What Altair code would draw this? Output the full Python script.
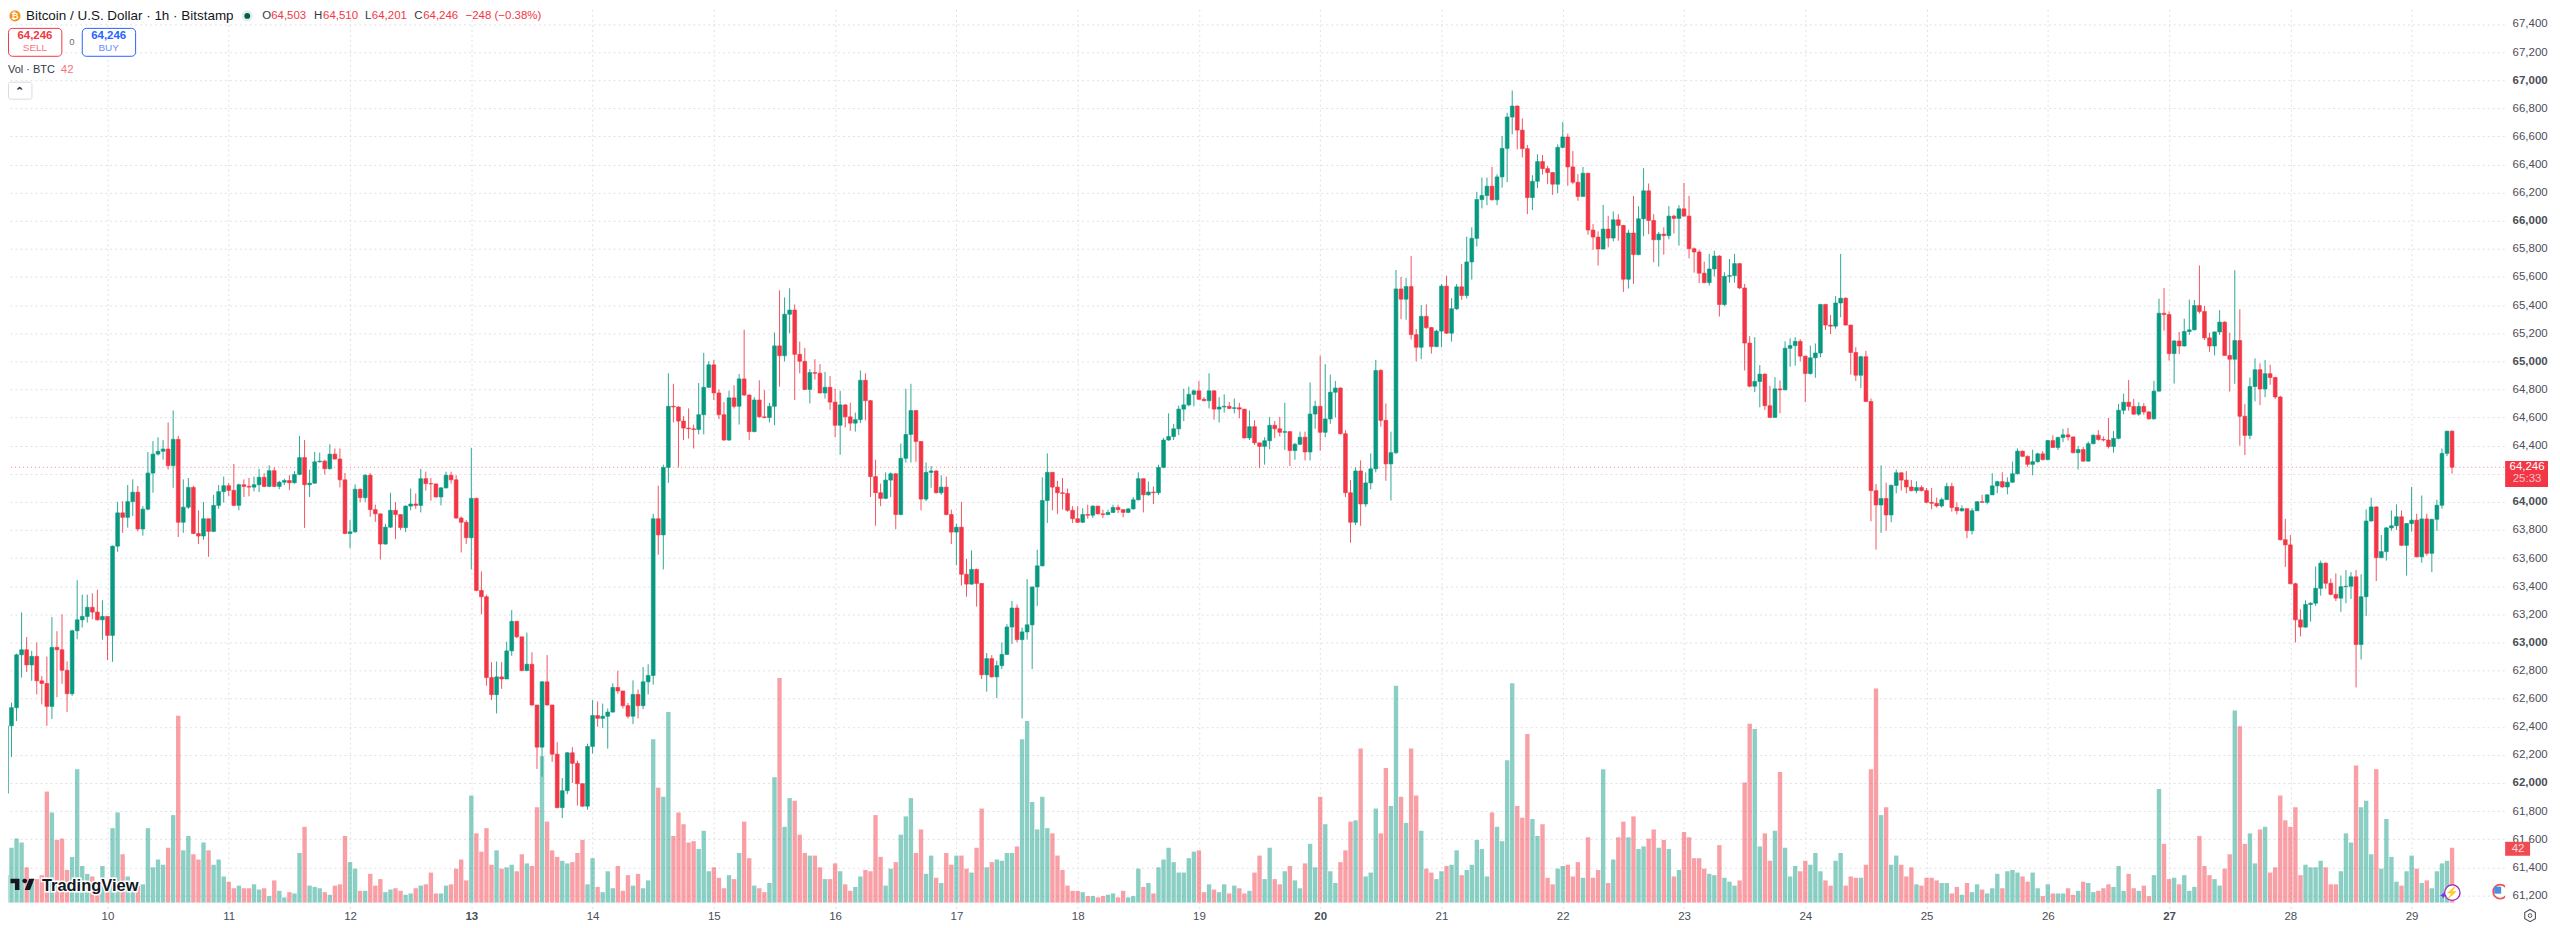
import altair as alt
import pandas as pd

FONT = "Liberation Sans"
GREEN = "#089981"
RED = "#F23645"
INK = "#131722"

first_open = 61721
closes = [
61927,62407,62536,62912,62948,62840,62901,62727,62708,62545,62965,62948,62802,62635,63083,63161,63185,63250,63216,63161,
63185,63050,63685,63922,63890,64002,64069,63807,63948,64205,64340,64360,64376,64258,64445,63855,63962,64103,63775,63757,
63880,63790,63975,64073,64115,64082,63975,64122,64110,64105,64122,64175,64110,64222,64110,64140,64152,64136,64195,64315,
64122,64133,64285,64290,64236,64340,64305,64157,63775,63787,64090,64030,64190,63945,63915,63700,63820,63940,63910,63817,
63970,63985,63975,64165,64130,64128,64035,64100,64190,64157,63885,63855,63745,64025,63370,63325,62750,62628,62755,62740,
62940,63150,63040,62800,62845,62555,62255,62720,62555,62205,61825,61945,62215,62140,61995,61835,62260,62480,62460,62475,
62505,62680,62655,62550,62475,62630,62550,62720,62765,63880,63765,64245,64680,64675,64575,64525,64520,64515,64620,64815,
64975,64775,64620,64440,64740,64680,64875,64760,64500,64725,64605,64600,64680,65110,65040,65335,65365,65050,65000,64800,
64920,64915,64775,64815,64710,64545,64690,64605,64560,64585,64865,64720,64180,64065,64025,64155,64200,63910,64310,64480,
64650,64430,64020,64210,64220,64065,64105,63910,63785,63820,63485,63415,63520,63420,62770,62885,62755,62835,62915,63110,
63245,63020,63075,63125,63395,63545,64010,64210,64105,64065,64060,63940,63880,63855,63910,63905,63970,63915,63910,63925,
63960,63945,63925,63950,64015,64165,64050,64070,64065,64245,64440,64465,64520,64660,64690,64765,64790,64730,64720,64790,
64660,64675,64680,64665,64670,64660,64455,64535,64420,64395,64435,64545,64520,64495,64500,64365,64410,64460,64355,64625,
64680,64495,64590,64780,64810,64485,64065,63855,64220,63985,64135,64235,64935,64580,64270,64350,65515,65442,65532,65190,
65100,65320,65240,65105,65215,65535,65200,65374,65530,65468,65707,65875,66151,66180,66246,66149,66312,66515,66738,66816,
66645,66513,66165,66281,66421,66371,66343,66260,66522,66596,66383,66274,66173,66338,65934,65884,65799,65941,65877,66007,
65967,65584,65913,65759,66014,66213,66002,65865,65905,65894,66033,66017,66085,66033,65801,65778,65627,65560,65657,65749,
65404,65605,65610,65695,65522,65130,64823,64857,64909,64684,64601,64804,64797,65093,65112,65142,65037,64913,65025,65059,
65404,65258,65250,65415,65449,65258,65063,64901,65033,64714,64080,63978,64024,63907,64117,64207,64155,64106,64080,64102,
64080,63997,63990,63971,64016,64110,63960,63937,63952,63795,63937,64001,63997,64050,64114,64144,64106,64140,64200,64361,
64324,64267,64286,64342,64301,64436,64387,64458,64477,64462,64350,64372,64290,64414,64474,64444,64440,64394,64452,64652,
64709,64679,64624,64679,64640,64591,64788,65342,65333,65055,65145,65109,65212,65224,65397,65355,65167,65109,65209,65279,
65042,65015,65148,64609,64473,64821,64940,64803,64912,64885,64746,63731,63694,63418,63161,63109,63270,63279,63385,63564,
63421,63342,63315,63397,63400,63467,62985,63325,63864,63964,63603,63646,63815,63830,63894,63691,63846,63870,63609,63879,
63634,63876,63976,64345,64503,64246]
highs = [
62005,62415,62572,62920,63213,63038,62940,63000,62760,62900,63180,63080,63200,62865,63090,63443,63340,63340,63350,63375,
63300,63185,63690,64000,64005,64120,64160,64113,63970,64355,64432,64460,64440,64565,64650,64470,64160,64170,64115,63940,
64000,63880,64050,64120,64180,64135,64270,64130,64160,64170,64180,64235,64205,64260,64245,64150,64165,64190,64218,64470,
64440,64230,64355,64350,64300,64410,64380,64380,64205,63870,64125,64095,64195,64205,63980,63915,63845,64065,63998,63910,
63975,64095,64060,64235,64215,64170,64128,64105,64215,64215,64190,63897,63870,64385,64030,63505,63340,62860,62865,62860,
63005,63230,63150,63040,63070,62930,62555,62725,62910,62555,62290,62035,62220,62255,62160,62000,62280,62590,62580,62565,
62530,62710,62800,62655,62570,62730,62665,62825,62845,63915,64115,64265,64915,64840,64680,64610,64665,64550,64845,65060,
65000,65010,64800,64710,64790,64830,64910,65225,64765,64745,64865,64795,64705,65205,65505,65455,65520,65405,65140,65095,
64945,65015,64980,64925,64895,64805,64790,64695,64705,64635,64935,64915,64725,64300,64130,64210,64210,64205,64415,64805,
64840,64650,64430,64280,64255,64225,64190,64180,63945,63845,64000,63595,63655,63525,63420,62925,62910,62870,63000,63130,
63295,63270,63105,63450,63395,63660,64175,64345,64210,64150,64170,64095,63970,63970,63955,63980,63975,63970,63945,63945,
63980,63980,63945,63955,64035,64210,64165,64145,64110,64265,64455,64630,64555,64685,64805,64820,64800,64860,64745,64915,
64795,64745,64765,64710,64735,64705,64660,64650,64580,64420,64460,64605,64575,64605,64705,64500,64420,64500,64500,64850,
64720,65040,64980,64905,64860,64815,64510,64155,64245,64295,64210,64345,65010,64945,64700,64500,65650,65600,65593,65750,
65230,65400,65405,65245,65225,65550,65610,65450,65550,65693,65887,65953,66206,66307,66307,66383,66331,66603,66768,66927,
66820,66728,66540,66324,66473,66468,66390,66345,66544,66702,66620,66496,66331,66383,66340,65976,65924,66113,66035,66066,
66047,65970,65936,66177,66104,66374,66265,66047,65920,65953,66104,66043,66111,66269,66177,65810,65794,65709,65764,65787,
65755,65634,65728,65764,65700,65551,65179,65172,64973,64915,64826,64887,64864,65142,65164,65172,65157,65040,65112,65127,
65410,65410,65329,65464,65764,65455,65260,65100,65040,65074,64736,64128,64260,64136,64125,64230,64210,64219,64155,64147,
64117,64099,64099,64031,64031,64136,64136,63997,63975,63950,63956,64005,64050,64055,64204,64150,64211,64174,64286,64380,
64365,64330,64372,64350,64361,64440,64473,64465,64519,64526,64465,64399,64391,64429,64480,64511,64466,64597,64503,64697,
64770,64867,64733,64709,64703,64645,64861,65445,65521,65355,65150,65209,65303,65439,65436,65682,65394,65203,65212,65364,
65285,65203,65648,65370,64697,64885,65021,64985,65009,64976,64890,64755,63879,63764,63425,63236,63300,63285,63540,63582,
63570,63455,63491,63476,63515,63500,63515,63485,63946,64030,63970,63764,63820,63939,63982,63939,63850,64106,63915,64045,
63915,63880,64015,64380,64506,64510]
lows = [
61674,61910,62186,62440,62750,62790,62727,62630,62560,62407,62456,62610,62706,62505,62620,63023,63106,63142,63165,63155,
63020,62875,62862,63645,63780,63817,63900,63790,63760,63940,64065,64330,64300,64230,64100,63750,63780,63950,63770,63700,
63730,63610,63785,63950,63995,64040,63970,63940,64035,64040,64075,64070,64105,64105,64105,64090,64120,64085,64130,64190,
63815,64035,64130,64280,64195,64230,64300,64103,63770,63670,63780,63998,64000,63895,63858,63590,63695,63815,63735,63800,
63785,63940,63950,63925,64080,64008,64030,63975,64095,64130,63880,63640,63700,63520,63365,63200,62692,62590,62495,62670,
62900,62905,63030,62795,62795,62550,62100,62045,62550,62150,61820,61750,61920,62000,61840,61830,61810,62210,62400,62390,
62245,62500,62635,62530,62460,62420,62460,62525,62630,62700,63625,63520,64135,64565,64245,64440,64450,64380,64480,64480,
64810,64725,64590,64435,64435,64665,64550,64755,64440,64495,64600,64595,64565,64545,64820,65000,65200,64725,64915,64795,
64700,64870,64770,64735,64655,64460,64335,64530,64505,64500,64560,64580,64035,63830,63970,64020,64035,63805,63905,64280,
64280,64285,63940,64005,64100,64060,64050,63905,63700,63550,63405,63325,63410,63255,62740,62650,62750,62605,62810,62910,
62990,63000,62460,63020,62810,63260,63540,63850,63940,63915,63945,63930,63850,63850,63850,63880,63885,63910,63885,63905,
63920,63920,63890,63920,63945,64010,63925,64045,63985,64050,64240,64435,64440,64475,64575,64680,64680,64725,64715,64665,
64585,64565,64635,64660,64630,64595,64450,64440,64405,64240,64265,64375,64455,64465,64370,64255,64300,64405,64295,64295,
64520,64365,64460,64555,64600,64480,64035,63710,63835,63830,63965,64090,64210,64535,64150,64010,64340,65300,65296,65155,
65000,65015,65230,65055,65100,65100,65195,65140,65365,65437,65447,65582,65816,66088,66111,66145,66111,66236,66275,66615,
66508,66450,66047,66076,66232,66329,66260,66184,66196,66515,66248,66260,66142,66170,65901,65792,65681,65795,65811,65853,
65858,65494,65518,65551,65755,65889,65905,65705,65674,65759,65868,65910,65823,66030,65733,65631,65556,65555,65539,65603,
65319,65392,65560,65560,65515,64935,64815,64781,64673,64654,64595,64600,64631,64795,64961,64969,65000,64710,64905,64883,
65029,65224,65194,65232,65314,65255,64905,64860,64811,64710,63862,63660,63780,63795,63855,64061,64080,64061,64075,64061,
64075,63990,63948,63960,63959,64015,63930,63911,63930,63742,63768,63935,63995,63982,64048,64061,64100,64054,64135,64195,
64320,64249,64189,64280,64295,64295,64385,64369,64425,64436,64345,64230,64285,64285,64410,64435,64430,64380,64350,64445,
64624,64649,64620,64612,64620,64585,64585,64785,65218,65006,64842,65052,65105,65188,65220,65340,65152,65067,65042,65188,
65040,64785,64840,64400,64333,64446,64715,64688,64745,64833,64733,63725,63537,63415,63000,63043,63105,63149,63260,63333,
63382,63335,63294,63218,63279,63310,62680,62879,63188,63860,63437,63600,63582,63794,63800,63685,63476,63788,63605,63567,
63618,63500,63794,63952,64325,64201]
volumes = [
14,21,42,49,46,27,16,18,21,85,69,48,49,25,35,102,28,22,20,13,
28,13,57,69,37,20,13,13,14,57,27,33,29,42,67,143,40,51,37,33,
46,40,29,33,20,16,11,13,11,11,14,10,11,5,17,9,4,8,7,38,
58,13,12,11,8,6,13,14,51,31,26,9,9,22,13,18,8,10,11,9,
6,7,11,13,14,23,7,7,13,14,26,33,17,82,53,39,57,29,40,26,
27,29,24,37,30,28,73,112,62,40,35,32,30,31,38,48,14,34,12,8,
24,11,28,9,21,13,22,11,17,125,88,81,146,51,69,60,46,47,41,55,
24,27,19,11,21,18,38,62,34,13,11,8,15,96,172,58,80,78,52,38,
36,36,27,18,18,30,24,14,9,12,20,25,24,67,35,13,26,31,52,66,
80,38,56,22,36,19,15,38,29,36,36,26,23,42,72,27,31,33,32,38,
38,43,125,139,77,56,81,57,53,36,25,13,9,9,8,5,5,4,5,6,
7,4,9,4,5,26,12,15,7,27,33,42,31,23,23,34,39,40,8,14,
10,8,14,7,13,11,7,9,23,36,18,42,18,14,24,28,17,11,30,45,
27,81,60,24,15,31,40,62,63,118,20,23,72,53,103,74,166,81,61,118,
82,55,26,23,18,24,28,29,40,21,25,29,48,41,20,69,58,47,109,168,
74,65,129,64,51,60,19,14,26,28,29,20,31,19,50,19,25,102,15,33,
50,62,50,66,41,43,49,56,42,48,41,20,25,54,50,34,34,26,22,21,
44,19,16,13,17,92,137,133,43,53,32,55,100,42,20,28,24,32,29,38,
24,17,13,32,38,13,20,19,19,29,102,164,67,73,29,36,29,20,27,14,
13,19,19,17,15,15,7,12,6,15,8,14,10,7,11,22,11,24,25,23,
20,16,23,11,5,14,7,7,7,11,6,9,16,15,8,9,11,14,12,28,
9,22,11,9,13,5,21,87,45,18,19,14,21,9,12,51,28,21,18,13,
26,37,147,135,45,53,30,56,58,23,27,82,63,58,73,21,29,27,27,32,
27,14,14,24,53,46,105,73,78,37,102,26,64,35,16,13,24,36,26,15,
17,11,24,30,32,42]

assert len(closes) == len(highs) == len(lows) == len(volumes) == 486

opens = [first_open] + closes[:-1]
hours = [i - 21 for i in range(len(closes))]
direction = ["up" if c >= o else "down" for o, c in zip(opens, closes)]
df = pd.DataFrame(dict(hour=hours, open=opens, close=closes, high=highs, low=lows,
                       vol=volumes, dir=direction))

price_ticks = list(range(61200, 67600, 200))
day_ticks = [d * 24 for d in range(0, 20)]
last_price = 64246

xscale = alt.Scale(domain=[-19.69, 474.31], nice=False, zero=False, padding=0)
pscale = alt.Scale(domain=[61106.4, 67503.5], nice=False, zero=False)
vscale = alt.Scale(domain=[-4.6, 683.8], nice=False, zero=False)
cscale = alt.Scale(domain=["up", "down"], range=[GREEN, RED])
x_axis = alt.Axis(
    values=day_ticks, grid=True, gridColor="#dfe1e6", gridDash=[2, 3], gridWidth=1,
    domain=False, ticks=False, labelFont=FONT, labelFontSize=11.5, labelColor="#4a4e57",
    labelPadding=2, labelFlush=False, labelOverlap=False,
    labelExpr="format(datum.value/24+10,'d')",
    labelFontWeight={"condition": {"test": "(datum.value/24+10)%7==6", "value": "bold"}, "value": "normal"})
X = alt.X("hour:Q", scale=xscale, title=None, axis=x_axis)
color = alt.Color("dir:N", scale=cscale, legend=None)

grid_y = alt.Chart(df).mark_rule(opacity=0).encode(
    y=alt.Y("close:Q", scale=pscale, title=None, axis=alt.Axis(
        orient="right", values=price_ticks, format=",.0f", grid=True, gridColor="#dfe1e6",
        gridDash=[2, 3], gridWidth=1, domain=False, ticks=False, labelFont=FONT, labelFontSize=11.5,
        labelColor="#4a4e57", labelPadding=8, labelAlign="left", labelOverlap=False,
        labelFontWeight={"condition": {"test": "datum.value%1000==0", "value": "bold"}, "value": "normal"})),
)
vol = alt.Chart(df).mark_bar(size=4.4, opacity=0.47).encode(
    x=X, y=alt.Y("vol:Q", scale=vscale, axis=None, title=None), color=color)
price_line = alt.Chart(pd.DataFrame({"p": [last_price]})).mark_rule(
    color=RED, strokeDash=[1, 3], strokeWidth=1, opacity=0.6).encode(
    y=alt.Y("p:Q", scale=pscale, axis=None, title=None))
wick = alt.Chart(df).mark_rule(strokeWidth=1, opacity=0.85).encode(
    x=X, y=alt.Y("low:Q", scale=pscale, axis=None, title=None), y2="high:Q", color=color)
body = alt.Chart(df).mark_bar(size=3.8, strokeWidth=0.6).encode(
    x=X, y=alt.Y("open:Q", scale=pscale, axis=None, title=None), y2="close:Q", color=color,
    stroke=alt.Stroke("dir:N", scale=cscale, legend=None))


def px(v):
    return alt.value(v - 8)


def text(s, x, y, color=INK, size=11, weight="normal", align="left", **kw):
    return alt.Chart(pd.DataFrame({"t": [s]})).mark_text(
        align=align, baseline="middle", font=FONT, fontSize=size, fontWeight=weight, color=color, **kw
    ).encode(x=px(x), y=px(y), text="t:N")


def box(x0, x1, y0, y1, fill="white", stroke=None, radius=0, sw=1):
    kw = {"stroke": stroke, "strokeWidth": sw} if stroke else {}
    return alt.Chart(pd.DataFrame({"a": [0]})).mark_rect(fill=fill, cornerRadius=radius, **kw).encode(
        x=px(x0), x2=px(x1), y=px(y0), y2=px(y1))


def dot(x, y, size, fill=None, stroke=None, shape="circle", sw=1, opacity=1):
    kw = {}
    if fill:
        kw["fill"] = fill
    if stroke:
        kw["stroke"] = stroke
        kw["strokeWidth"] = sw
    return alt.Chart(pd.DataFrame({"a": [0]})).mark_point(
        filled=bool(fill), shape=shape, size=size, opacity=opacity, **kw).encode(x=px(x), y=px(y))


TV_LOGO = ("M-0.89,-0.44 L-0.22,-0.44 L-0.22,0.39 L-0.56,0.39 L-0.56,-0.11 L-0.89,-0.11 Z "
           "M0.56,0.39 L0.17,0.39 L0.5,-0.44 L0.89,-0.44 Z "
           "M0.167,-0.444 A0.167,0.167 0 1 0 0.167,-0.111 A0.167,0.167 0 1 0 0.167,-0.444 Z")
HEX = "M0,-1 L0.87,-0.5 L0.87,0.5 L0,1 L-0.87,0.5 L-0.87,-0.5 Z"
SELL_RED = "#F23645"
BUY_BLUE = "#2962FF"

annotations = [
    dot(15, 14.5, 125, fill="#F7931A"),
    text("₿", 15, 14.5, "white", 9, "bold", "center"),
    text("Bitcoin / U.S. Dollar · 1h · Bitstamp", 26, 15, INK, 13.5),
    dot(248, 14.5, 125, fill="#DCEFEA"),
    dot(248, 14.5, 34, fill="#07594B"),
    text("O", 263, 14.5, "#333844", 11.5), text("64,503", 272, 14.5, SELL_RED, 11.5),
    text("H", 315, 14.5, "#333844", 11.5), text("64,510", 324, 14.5, SELL_RED, 11.5),
    text("L", 366, 14.5, "#333844", 11.5), text("64,201", 373, 14.5, SELL_RED, 11.5),
    text("C", 415.5, 14.5, "#333844", 11.5), text("64,246", 424.5, 14.5, SELL_RED, 11.5),
    text("−248 (−0.38%)", 467, 14.5, SELL_RED, 11.5),
    box(8.5, 62, 27, 55, stroke=SELL_RED, radius=4),
    text("64,246", 35, 34.5, SELL_RED, 11.5, "bold", "center"),
    text("SELL", 35, 46.5, "#F7727E", 10, "normal", "center"),
    text("0", 72, 41, "#6A6D78", 9.5, "normal", "center"),
    box(82.5, 136, 27, 55, stroke=BUY_BLUE, radius=4),
    text("64,246", 109, 34.5, BUY_BLUE, 11.5, "bold", "center"),
    text("BUY", 109, 46.5, "#6C8DFB", 10, "normal", "center"),
    text("Vol · BTC", 8, 69, "#333844", 11),
    text("42", 61, 69, "#F7727E", 11.5),
    box(8.5, 32, 81, 98, stroke="#D9DBE0", radius=2),
    text("⌃", 20, 91, "#333844", 11, "bold", "center"),
    box(2513, 2556, 461, 487, fill=RED),
    text("64,246", 2535, 467.5, "white", 11.5, "normal", "center"),
    text("25:33", 2535, 479.5, "#FBC1C7", 11.5, "normal", "center"),
    box(2513, 2538, 843, 857, fill="#EF4B53"),
    text("42", 2526, 850.5, "#FCD9DC", 11.5, "normal", "center"),
    text("TradingView", 42, 887, "white", 16.5, 600, stroke="white", strokeWidth=3),
    dot(22.5, 886, 729, fill=INK, shape=TV_LOGO),
    text("TradingView", 42, 887, INK, 16.5, 600),
    dot(2460, 894, 240, fill="white", stroke="#9C27B0", sw=1.3),
    text("⚡", 2460, 894, "#9C27B0", 11, "normal", "center"),
    text("✦", 2451, 897, "#6A3DF0", 10, "normal", "center"),
    dot(2508, 893, 200, fill="white", stroke="#EF5350", sw=1.6),
    box(2502, 2509, 888, 895, fill="#4A90E2"),
    box(2513, 2518, 883, 905, fill="white"),
    dot(2538, 917, 150, stroke="#4A4E57", shape=HEX, sw=1.1),
    dot(2538, 917, 14, stroke="#4A4E57", sw=1),
]

chart = alt.layer(grid_y, vol, price_line, wick, body, *annotations).resolve_scale(
    y="independent"
).properties(
    width=2504, height=902, background="white",
    padding={"left": 0, "top": 0, "right": 48, "bottom": 14},
    autosize=alt.AutoSizeParams(type="none"),
).configure_view(stroke=None)

chart.save("out.html", embed_options={"renderer": "svg", "actions": False})
